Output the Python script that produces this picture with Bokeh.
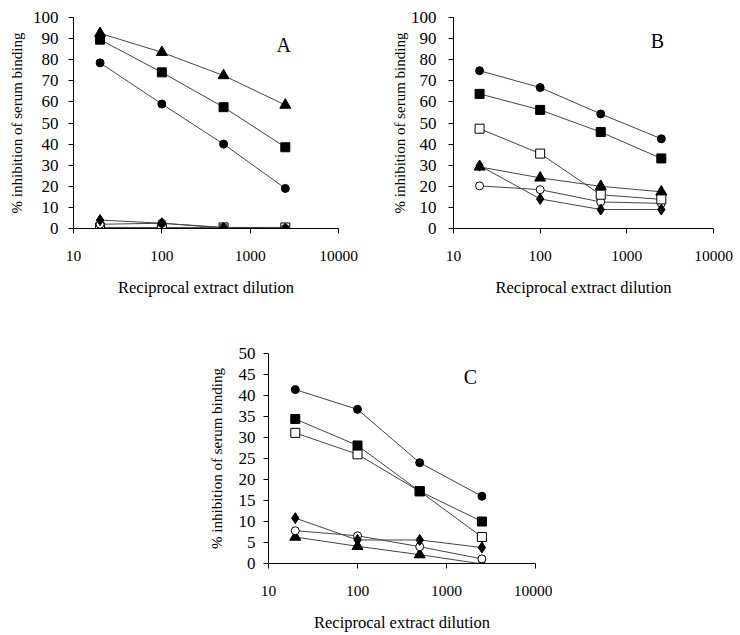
from bokeh.plotting import figure
from bokeh.layouts import column, row
from bokeh.models import Spacer, FixedTicker, BasicTickFormatter, Label, Range1d
from bokeh.embed import file_html
from bokeh.resources import INLINE

dilution = [20, 100, 500, 2500]
x_ticks = [10, 100, 1000, 10000]

# Panel A
a_tri = [92.5, 83.5, 72.5, 58.5]
a_sq = [89.5, 74, 57.5, 38.5]
a_circ = [78.5, 59, 40, 19]
a_dia = [4, 2.5, 0.3, 0]
a_ocirc = [2, 2.5, 0.5, 0]
a_osq = [0.5, 0.5, 0.5, 0.5]

# Panel B
b_circ = [74.8, 66.8, 54.3, 42.5]
b_sq = [63.8, 56.2, 45.7, 33.2]
b_osq = [47.3, 35.5, 16, 13.8]
b_tri = [29.2, 24, 20, 17.4]
b_dia = [29.8, 14, 9, 9]
b_ocirc = [20.2, 18.4, 12.6, 11.9]

# Panel C
c_circ = [41.4, 36.7, 24, 16]
c_sq = [34.4, 28.1, 17.2, 10]
c_osq = [31.1, 26, 17.2, 6.3]
c_dia = [10.8, 5.6, 5.6, 3.8]
c_ocirc = [7.8, 6.6, 4, 1.1]
c_tri = [6.3, 4.1, 2.1, -0.1]

FONT = "Liberation Serif"
LINE = "#444444"


def make_panel(width, height, left, right, top, bottom, ymax, ystep, letter, lx, ly,
               ytick_standoff, ylabel_standoff):
    p = figure(width=width, height=height, x_axis_type="log",
               x_range=Range1d(10, 10000), y_range=Range1d(0, ymax),
               output_backend="svg", toolbar_location=None,
               min_border_left=left, min_border_right=right,
               min_border_top=top, min_border_bottom=bottom)
    p.outline_line_color = None
    p.xgrid.visible = False
    p.ygrid.visible = False
    p.xaxis.ticker = FixedTicker(ticks=x_ticks)
    p.xaxis.formatter = BasicTickFormatter(use_scientific=False)
    p.yaxis.ticker = FixedTicker(ticks=list(range(0, ymax + 1, ystep)))
    for ax in (p.xaxis, p.yaxis):
        ax.axis_line_color = "black"
        ax.major_tick_line_color = "black"
        ax.major_tick_out = 5
        ax.major_tick_in = 0
        ax.minor_tick_line_color = None
        ax.major_label_text_font = FONT
        ax.major_label_text_color = "black"
        ax.axis_label_text_font = FONT
        ax.axis_label_text_font_style = "normal"
        ax.axis_label_text_color = "black"
    p.xaxis.major_label_text_font_size = "15.5px"
    p.yaxis.major_label_text_font_size = "17px"
    p.xaxis.axis_label_text_font_size = "16.5px"
    p.yaxis.axis_label_text_font_size = "15px"
    p.xaxis.axis_label = "Reciprocal extract dilution"
    p.yaxis.axis_label = "% inhibition of serum binding"
    p.xaxis.major_label_standoff = 17
    p.yaxis.major_label_standoff = ytick_standoff
    p.xaxis.axis_label_standoff = 14
    p.yaxis.axis_label_standoff = ylabel_standoff
    p.add_layout(Label(x=lx, y=ly, text=letter, text_font=FONT, text_font_size="20px",
                       text_align="center", text_baseline="middle", text_color="black"))
    return p


def series(p, ys, marker, filled, size):
    p.line(dilution, ys, line_color=LINE, line_width=1)
    p.scatter(dilution, ys, marker=marker, size=size, line_color="black", line_width=1,
              fill_color="black" if filled else "white")


pA = make_panel(370, 300, 73, 32, 17, 70, 100, 10, "A", 2400, 87, 10, 5)
series(pA, a_osq, "square", False, 9)
series(pA, a_ocirc, "circle", False, 8)
series(pA, a_dia, "diamond", True, 11)
series(pA, a_circ, "circle", True, 8)
series(pA, a_sq, "square", True, 9)
series(pA, a_tri, "triangle", True, 11)

pB = make_panel(370, 300, 83, 27, 16, 72, 100, 10, "B", 2250, 88.7, 12, 0)
series(pB, b_ocirc, "circle", False, 8)
series(pB, b_dia, "diamond", True, 11)
series(pB, b_tri, "triangle", True, 11)
series(pB, b_osq, "square", False, 9)
series(pB, b_sq, "square", True, 9)
series(pB, b_circ, "circle", True, 8)

pC = make_panel(362, 335, 78, 17, 53, 72, 50, 5, "C", 1860, 44.3, 8, 11)
series(pC, c_tri, "triangle", True, 11)
series(pC, c_ocirc, "circle", False, 8)
series(pC, c_dia, "diamond", True, 11)
series(pC, c_osq, "square", False, 9)
series(pC, c_sq, "square", True, 9)
series(pC, c_circ, "circle", True, 8)

layout = column(row(pA, pB, spacing=0), row(Spacer(width=190, height=10), pC, spacing=0), spacing=0)

open("out.html", "w").write(file_html(layout, INLINE))
